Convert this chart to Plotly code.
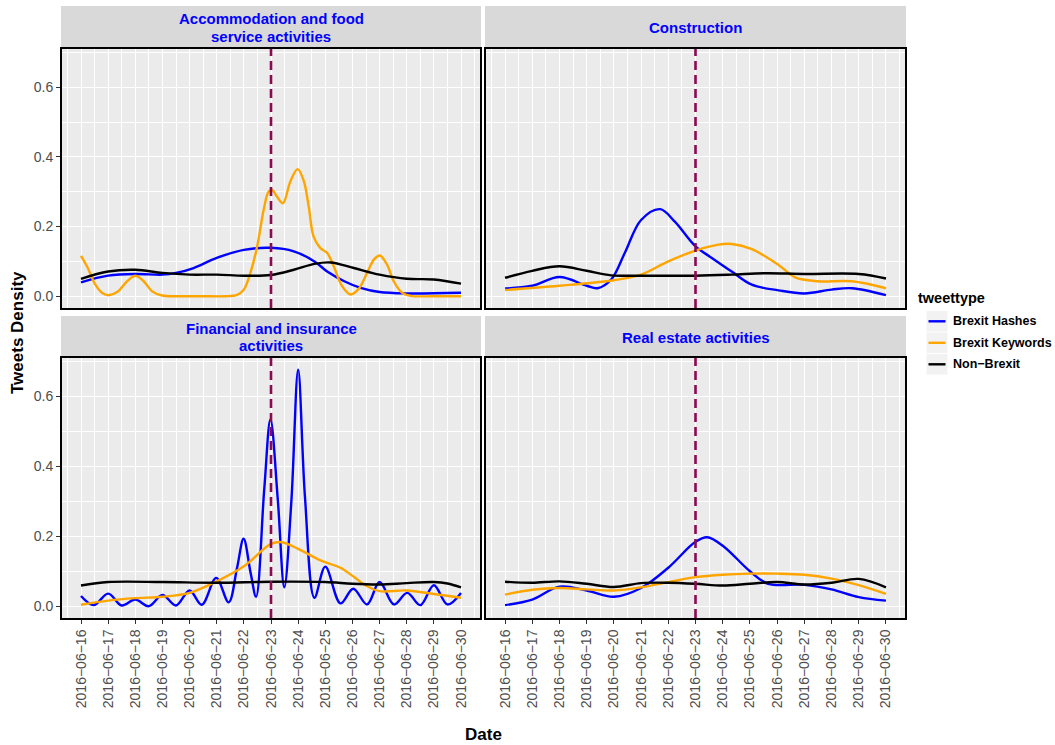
import pandas as pd
import plotly.graph_objects as go

# ---- data: density curves sampled by day of June 2016 ----
ACC_HASH_DAY = [16.0, 17.0, 18.0, 19.0, 19.5, 20.15, 21.0, 22.0, 23.0, 23.84, 24.6, 25.07, 25.7, 26.3, 27.0, 28.0, 30.0]
ACC_HASH = [0.040, 0.059, 0.064, 0.062, 0.067, 0.081, 0.110, 0.133, 0.139, 0.129, 0.100, 0.071, 0.043, 0.024, 0.012, 0.008, 0.010]

ACC_KEY_DAY = [16.0, 16.22, 16.53, 16.77, 17.02, 17.33, 17.7, 18.0, 18.31, 18.62, 18.99, 19.54, 20.5, 21.3, 21.75,
               22.0, 22.24, 22.49, 22.73, 22.91, 23.04, 23.22, 23.44, 23.71, 23.98, 24.2, 24.39, 24.57, 24.82,
               25.07, 25.31, 25.62, 25.93, 26.23, 26.54, 26.79, 27.01, 27.28, 27.52, 27.83, 28.14, 29.0, 30.0]
ACC_KEY = [0.116, 0.086, 0.033, 0.010, 0.003, 0.012, 0.043, 0.059, 0.043, 0.014, 0.002, 0.000, 0.000, 0.000, 0.004,
           0.019, 0.067, 0.143, 0.248, 0.300, 0.305, 0.286, 0.267, 0.329, 0.365, 0.333, 0.257, 0.171, 0.138,
           0.124, 0.086, 0.029, 0.005, 0.021, 0.067, 0.105, 0.117, 0.090, 0.043, 0.010, 0.001, 0.000, 0.000]

ACC_NON_DAY = [16.0, 17.0, 18.0, 19.0, 20.0, 21.0, 22.0, 23.0, 23.84, 24.6, 25.2, 26.05, 27.0, 28.0, 29.0, 30.0]
ACC_NON = [0.050, 0.071, 0.076, 0.067, 0.062, 0.062, 0.059, 0.061, 0.076, 0.093, 0.097, 0.081, 0.062, 0.050, 0.048, 0.036]

CON_HASH_DAY = [16.0, 17.0, 18.0, 19.0, 19.4, 19.9, 20.4, 21.0, 21.7, 22.24, 23.0, 23.6, 24.33, 25.07, 26.05, 27.0, 28.0, 28.75, 30.0]
CON_HASH = [0.022, 0.030, 0.055, 0.030, 0.023, 0.048, 0.124, 0.219, 0.250, 0.214, 0.143, 0.110, 0.071, 0.033, 0.017, 0.008, 0.019, 0.023, 0.003]

CON_KEY_DAY = [16.0, 18.0, 20.0, 21.0, 22.0, 23.0, 23.84, 24.33, 25.07, 26.05, 26.66, 27.5, 28.75, 30.0]
CON_KEY = [0.018, 0.030, 0.046, 0.062, 0.100, 0.131, 0.148, 0.150, 0.135, 0.090, 0.054, 0.043, 0.043, 0.023]

CON_NON_DAY = [16.0, 17.0, 18.0, 19.0, 19.9, 21.0, 23.0, 24.33, 25.56, 27.0, 29.0, 30.0]
CON_NON = [0.053, 0.073, 0.086, 0.073, 0.060, 0.059, 0.059, 0.062, 0.066, 0.064, 0.064, 0.051]

FIN_HASH_DAY = [16.0, 16.47, 17.0, 17.5, 18.0, 18.5, 19.0, 19.5, 20.0, 20.45, 20.98, 21.44, 21.75, 21.99, 22.25,
                22.45, 22.75, 22.98, 23.25, 23.49, 23.75, 24.0, 24.25, 24.6, 25.0, 25.56, 26.03, 26.54, 27.0,
                27.53, 28.02, 28.5, 29.0, 29.5, 30.0]
FIN_HASH = [0.029, 0.003, 0.036, 0.002, 0.019, 0.000, 0.032, 0.002, 0.045, 0.004, 0.081, 0.011, 0.110, 0.193, 0.095,
            0.027, 0.333, 0.535, 0.305, 0.054, 0.300, 0.676, 0.314, 0.024, 0.113, 0.008, 0.050, 0.005, 0.069,
            0.005, 0.038, 0.003, 0.060, 0.005, 0.038]

FIN_KEY_DAY = [16.0, 17.0, 18.0, 19.0, 20.0, 21.0, 22.0, 23.0, 23.4, 24.0, 24.82, 25.56, 26.05, 26.54, 27.0, 28.0, 29.0, 30.0]
FIN_KEY = [0.004, 0.016, 0.023, 0.027, 0.038, 0.071, 0.114, 0.178, 0.183, 0.164, 0.131, 0.110, 0.084, 0.057, 0.043, 0.045, 0.035, 0.024]

FIN_NON_DAY = [16.0, 17.0, 19.0, 21.0, 23.0, 25.0, 26.0, 27.0, 28.0, 29.0, 29.5, 30.0]
FIN_NON = [0.059, 0.069, 0.069, 0.067, 0.070, 0.069, 0.064, 0.062, 0.066, 0.069, 0.065, 0.054]

REA_HASH_DAY = [16.0, 17.0, 18.0, 19.0, 20.0, 21.0, 22.0, 23.0, 23.43, 24.0, 25.0, 25.67, 27.0, 28.0, 29.0, 30.0]
REA_HASH = [0.003, 0.019, 0.056, 0.045, 0.027, 0.052, 0.110, 0.184, 0.197, 0.173, 0.100, 0.064, 0.061, 0.048, 0.026, 0.016]

REA_KEY_DAY = [16.0, 17.0, 18.0, 19.0, 20.0, 21.0, 22.0, 23.0, 24.0, 25.0, 26.0, 27.0, 28.0, 29.0, 30.0]
REA_KEY = [0.033, 0.047, 0.052, 0.048, 0.045, 0.054, 0.069, 0.083, 0.090, 0.093, 0.093, 0.090, 0.079, 0.060, 0.035]

REA_NON_DAY = [16.0, 17.0, 18.0, 19.0, 20.0, 21.0, 22.0, 23.0, 24.0, 25.0, 26.0, 27.0, 28.0, 29.0, 30.0]
REA_NON = [0.070, 0.067, 0.071, 0.064, 0.055, 0.066, 0.067, 0.064, 0.059, 0.064, 0.069, 0.062, 0.067, 0.078, 0.054]

PANEL_TITLES = [["Accommodation and food", "service activities"], ["Construction"],
                ["Financial and insurance", "activities"], ["Real estate activities"]]
SERIES_NAMES = ["Brexit Hashes", "Brexit Keywords", "Non\u2212Brexit"]
SERIES_COLORS = ["#0000FF", "#FFA500", "#000000"]
LEGEND_TITLE = "tweettype"
DATE_LABELS = ["2016\u221206\u221216", "2016\u221206\u221217", "2016\u221206\u221218", "2016\u221206\u221219",
               "2016\u221206\u221220", "2016\u221206\u221221", "2016\u221206\u221222", "2016\u221206\u221223",
               "2016\u221206\u221224", "2016\u221206\u221225", "2016\u221206\u221226", "2016\u221206\u221227",
               "2016\u221206\u221228", "2016\u221206\u221229", "2016\u221206\u221230"]
TICK_DAYS = list(range(16, 31))
REFERENDUM_DAY = 23
Y_TICKS = [0.0, 0.2, 0.4, 0.6]
Y_TICK_LABELS = ["0.0", "0.2", "0.4", "0.6"]

PANELS = [
    [(ACC_HASH_DAY, ACC_HASH), (ACC_KEY_DAY, ACC_KEY), (ACC_NON_DAY, ACC_NON)],
    [(CON_HASH_DAY, CON_HASH), (CON_KEY_DAY, CON_KEY), (CON_NON_DAY, CON_NON)],
    [(FIN_HASH_DAY, FIN_HASH), (FIN_KEY_DAY, FIN_KEY), (FIN_NON_DAY, FIN_NON)],
    [(REA_HASH_DAY, REA_HASH), (REA_KEY_DAY, REA_KEY), (REA_NON_DAY, REA_NON)],
]

BASE = pd.Timestamp("2016-06-01")


def to_dates(days):
    return [BASE + pd.Timedelta(days=d - 1) for d in days]


W, H = 1055, 745
FONT = "Liberation Sans, Arial, sans-serif"

# panel rectangles in pixels: (left, right, top, bottom)
PANEL_PX = [(62, 480, 49, 308), (486, 905, 49, 308), (62, 480, 358, 618), (486, 905, 358, 618)]
STRIP_PX = [(6, 48), (6, 48), (316, 357), (316, 357)]
STRIP_LINE_GAP = 17


def px(x):
    return x / W


def py(y):
    return 1 - y / H


fig = go.Figure()

x_range = [BASE + pd.Timedelta(days=14.3), BASE + pd.Timedelta(days=29.7)]
y_range = [-0.0338, 0.7098]
minor_x = to_dates([15.5 + i * 0.5 for i in range(31)])

for p, curves in enumerate(PANELS):
    suffix = "" if p == 0 else str(p + 1)
    for s, (days, vals) in enumerate(curves):
        fig.add_trace(go.Scatter(
            x=to_dates(days), y=vals, mode="lines",
            line=dict(color=SERIES_COLORS[s], width=2.4, shape="spline", smoothing=1.0),
            name=SERIES_NAMES[s], showlegend=False,
            xaxis="x" + suffix, yaxis="y" + suffix, hoverinfo="skip",
        ))

layout_axes = {}
for p, (l, r, t, b) in enumerate(PANEL_PX):
    suffix = "" if p == 0 else str(p + 1)
    bottom_row = p >= 2
    left_col = p % 2 == 0
    layout_axes["xaxis" + suffix] = dict(
        domain=[px(l), px(r)], anchor="y" + suffix, type="date", range=x_range,
        tickvals=to_dates(TICK_DAYS), ticktext=DATE_LABELS, showticklabels=bottom_row,
        tickangle=-90, tickfont=dict(family=FONT, size=14, color="#4D4D4D"),
        ticks="outside" if bottom_row else "", ticklen=4, tickwidth=1, tickcolor="#333333",
        showgrid=True, gridcolor="#FFFFFF", gridwidth=1.1,
        minor=dict(tickvals=minor_x, showgrid=True, gridcolor="#FFFFFF", gridwidth=0.55, ticks=""),
        showline=True, linecolor="#000000", linewidth=2, mirror=True, zeroline=False,
        fixedrange=True,
    )
    layout_axes["yaxis" + suffix] = dict(
        domain=[py(b), py(t)], anchor="x" + suffix, range=y_range,
        tickvals=Y_TICKS, ticktext=Y_TICK_LABELS, showticklabels=left_col,
        tickfont=dict(family=FONT, size=14, color="#4D4D4D"),
        ticks="outside" if left_col else "", ticklen=4, tickwidth=1, tickcolor="#333333",
        showgrid=True, gridcolor="#FFFFFF", gridwidth=1.1,
        minor=dict(dtick=0.1, tick0=0, showgrid=True, gridcolor="#FFFFFF", gridwidth=0.55, ticks=""),
        showline=True, linecolor="#000000", linewidth=2, mirror=True, zeroline=False,
        fixedrange=True,
    )

shapes = []
annotations = []
for p, ((l, r, t, b), (st, sb)) in enumerate(zip(PANEL_PX, STRIP_PX)):
    suffix = "" if p == 0 else str(p + 1)
    # panel background
    shapes.append(dict(type="rect", xref="paper", yref="paper", x0=px(l), x1=px(r),
                       y0=py(b), y1=py(t), fillcolor="#EBEBEB", line=dict(width=0), layer="below"))
    # facet strip with one annotation per title line
    shapes.append(dict(type="rect", xref="paper", yref="paper", x0=px(l - 1), x1=px(r + 1),
                       y0=py(sb), y1=py(st), fillcolor="#D9D9D9", line=dict(width=0), layer="below"))
    lines = PANEL_TITLES[p]
    centre = (st + sb) / 2 + 0.5
    first = centre - (len(lines) - 1) * STRIP_LINE_GAP / 2
    for k, txt in enumerate(lines):
        annotations.append(dict(text="<b>" + txt + "</b>", xref="paper", yref="paper",
                                x=px((l + r) / 2), y=py(first + k * STRIP_LINE_GAP),
                                xanchor="center", yanchor="middle", showarrow=False,
                                font=dict(family=FONT, size=15, color="#0000FF")))
    # referendum day marker
    shapes.append(dict(type="line", xref="x" + suffix, yref="y" + suffix + " domain",
                       x0=to_dates([REFERENDUM_DAY])[0], x1=to_dates([REFERENDUM_DAY])[0], y0=0, y1=1,
                       line=dict(color="#8B0A50", width=2.6, dash="9px,5px"), layer="above"))

# legend: title, grey key boxes, line samples and bold labels
annotations.append(dict(text="<b>" + LEGEND_TITLE + "</b>", xref="paper", yref="paper", x=px(916),
                        y=py(298), xanchor="left", yanchor="middle", showarrow=False,
                        font=dict(family=FONT, size=14.5, color="#000000")))
for s, name in enumerate(SERIES_NAMES):
    top = 311 + s * 21.5
    mid = top + 10.3
    shapes.append(dict(type="rect", xref="paper", yref="paper", x0=px(926.5), x1=px(947.5),
                       y0=py(top + 20.6), y1=py(top), fillcolor="#F2F2F2", line=dict(width=0)))
    shapes.append(dict(type="line", xref="paper", yref="paper", x0=px(928.5), x1=px(945.5),
                       y0=py(mid), y1=py(mid), line=dict(color=SERIES_COLORS[s], width=2.4)))
    annotations.append(dict(text="<b>" + name + "</b>", xref="paper", yref="paper", x=px(950.5),
                            y=py(mid), xanchor="left", yanchor="middle", showarrow=False,
                            font=dict(family=FONT, size=12.5, color="#000000")))

annotations.append(dict(text="<b>Tweets Density</b>", xref="paper", yref="paper", x=px(18),
                        y=py(333), textangle=-90, showarrow=False, xanchor="center", yanchor="middle",
                        font=dict(family=FONT, size=17, color="#000000")))
annotations.append(dict(text="<b>Date</b>", xref="paper", yref="paper", x=px(483), y=py(734),
                        showarrow=False, xanchor="center", yanchor="middle",
                        font=dict(family=FONT, size=17, color="#000000")))

fig.update_layout(
    width=W, height=H, margin=dict(l=0, r=0, t=0, b=0),
    paper_bgcolor="#FFFFFF", plot_bgcolor="rgba(0,0,0,0)",
    font=dict(family=FONT), showlegend=False,
    shapes=shapes, annotations=annotations,
    **layout_axes,
)

fig.write_html("out.html")
